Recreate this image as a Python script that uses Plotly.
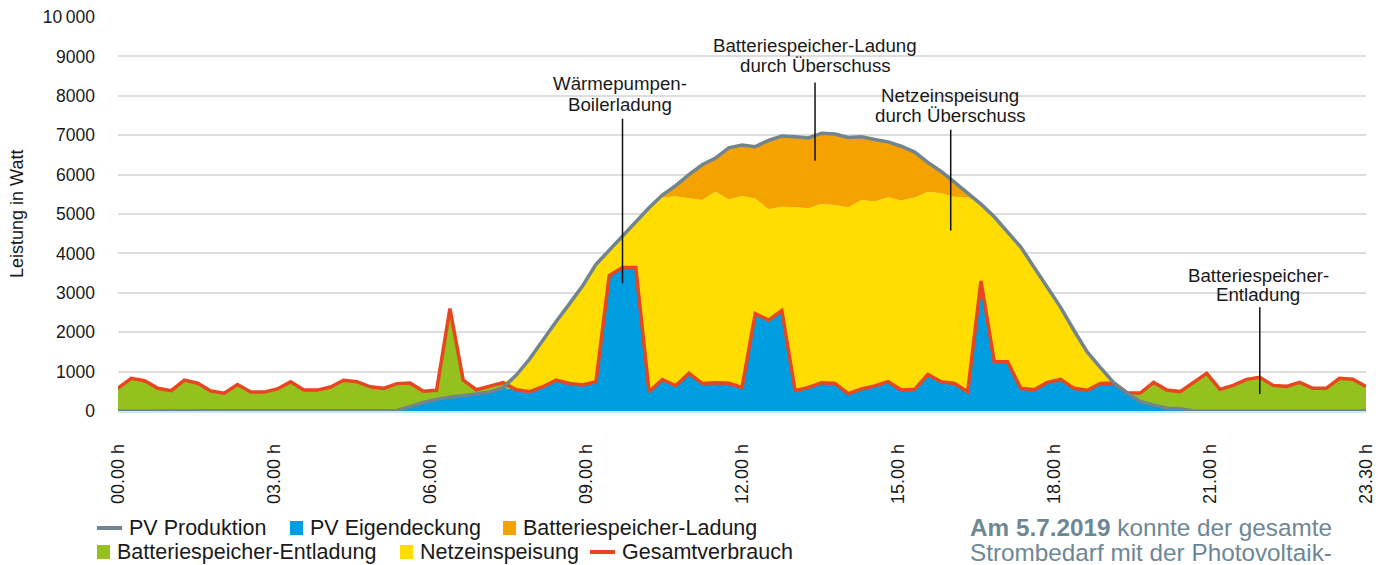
import numpy as np
import plotly.graph_objects as go

# ---------------- data (15-minute steps, 00.00 h .. 23.30 h) ----------------
zeitpunkte = [f"{i // 4:02d}.{(i % 4) * 15:02d}" for i in range(95)]
stunden = [i / 4 for i in range(95)]

tick_labels = ["00.00 h", "03.00 h", "06.00 h", "09.00 h", "12.00 h",
               "15.00 h", "18.00 h", "21.00 h", "23.30 h"]
y_tick_values = [0, 1000, 2000, 3000, 4000, 5000, 6000, 7000, 8000, 9000, 10000]
y_tick_labels = ["0", "1000", "2000", "3000", "4000", "5000", "6000", "7000",
                 "8000", "9000", "10\u2009000"]

# Gesamtverbrauch (W)
gesamtverbrauch = [
    580, 830, 770, 575, 515, 785, 705, 505, 450, 670,
    480, 480, 560, 740, 535, 530, 610, 780, 745, 615,
    575, 695, 710, 500, 530, 2600, 785, 540, 630, 718,
    540, 490, 616, 785, 700, 658, 743, 3440, 3640, 3640,
    490, 800, 640, 955, 700, 718, 702, 596, 2470, 2307,
    2550, 515, 596, 718, 700, 440, 560, 638, 744, 533,
    550, 925, 744, 700, 490, 3300, 1250, 1250, 575, 540,
    727, 803, 575, 525, 700, 710, 464, 455, 725, 533,
    492, 735, 955, 550, 650, 804, 855, 650, 625, 728,
    575, 575, 830, 805, 625,
]

# PV Produktion (W)
pv_produktion = [
    0, 0, 0, 0, 0, 0, 0, 0, 0, 0,
    0, 0, 0, 0, 0, 0, 0, 0, 0, 0,
    0, 15, 110, 215, 295, 355, 390, 430, 480, 590,
    910, 1320, 1800, 2270, 2720, 3180, 3720, 4080, 4420, 4800,
    5160, 5480, 5720, 6000, 6250, 6420, 6680, 6750, 6710, 6870,
    6980, 6960, 6930, 7050, 7030, 6940, 6960, 6890, 6830, 6720,
    6570, 6310, 6080, 5810, 5540, 5250, 4930, 4530, 4160, 3650,
    3140, 2630, 2050, 1500, 1100, 720, 456, 240, 150, 70,
    60, 0, 0, 0, 0, 0, 0, 0, 0, 0,
    0, 0, 0, 0, 0,
]

# Batteriespeicher-Ladung (W)
batterie_ladung = [
    0, 0, 0, 0, 0, 0, 0, 0, 0, 0,
    0, 0, 0, 0, 0, 0, 0, 0, 0, 0,
    0, 0, 0, 0, 0, 0, 0, 0, 0, 0,
    0, 0, 0, 0, 0, 0, 0, 0, 0, 0,
    0, 60, 270, 600, 895, 855, 1310, 1295, 1315, 1750,
    1795, 1790, 1785, 1795, 1800, 1770, 1605, 1575, 1405, 1380,
    1150, 745, 555, 370, 115, 0, 0, 0, 0, 0,
    0, 0, 0, 0, 0, 0, 0, 0, 0, 0,
    0, 0, 0, 0, 0, 0, 0, 0, 0, 0,
    0, 0, 0, 0, 0,
]

# ---------------- derived energy balance ----------------
v = np.array(gesamtverbrauch, dtype=float)
p = np.array(pv_produktion, dtype=float)
lad = np.array(batterie_ladung, dtype=float)
pv_eigendeckung = np.minimum(p, v)
batterie_entladung = np.maximum(v - p, 0)
netzeinspeisung = np.maximum(p - v - lad, 0)

# ---------------- styling ----------------
BLUE = "#009EE0"
GREEN = "#95C11F"
YELLOW = "#FFDD00"
ORANGE = "#F4A200"
RED = "#E8461E"
GREY = "#71848F"
TEXT = "#1A1A1A"
NOTE = "#6E8795"
FONT = "Liberation Sans, Arial, Helvetica, sans-serif"

# the page body adds an 8 px margin -> figure is 8 px smaller, coordinates shifted
OFF = 8
W, H = 1386 - OFF, 565 - OFF
PLOT_L, PLOT_R, PLOT_T, PLOT_B = 118, 1366, 16, 411   # target page pixels
Y_MAX = 10025                                          # 10 000 lands at page y ~17
L, T = PLOT_L - OFF, PLOT_T - OFF
R = W - (PLOT_R - OFF)
B = H - (PLOT_B - OFF)
PW, PH = W - L - R, H - T - B


def px_x(px):
    return (px - PLOT_L) / PW


def px_y(py):
    return (PLOT_B - py) / PH


fig = go.Figure()

for name, vals, col in [("PV Eigendeckung", pv_eigendeckung, BLUE),
                        ("Batteriespeicher-Entladung", batterie_entladung, GREEN),
                        ("Netzeinspeisung", netzeinspeisung, YELLOW),
                        ("Batteriespeicher-Ladung", lad, ORANGE)]:
    fig.add_trace(go.Scatter(
        x=stunden, y=vals, name=name, stackgroup="energie", mode="none",
        fillcolor=col, showlegend=False, customdata=zeitpunkte,
        hovertemplate="%{customdata} h: %{y:.0f} W<extra>" + name + "</extra>"))

fig.add_trace(go.Scatter(
    x=stunden, y=gesamtverbrauch, name="Gesamtverbrauch", mode="lines",
    line=dict(color=RED, width=3.5), showlegend=False, customdata=zeitpunkte))
fig.add_trace(go.Scatter(
    x=stunden, y=pv_produktion, name="PV Produktion", mode="lines",
    line=dict(color=GREY, width=3.5), showlegend=False, customdata=zeitpunkte))

shapes = []
annotations = []

# leader lines + callout texts (data coordinates)
callouts = [
    (9.5, 3240, 7420, 9.45, ["Wärmepumpen-", "Boilerladung"], [8300, 7790]),
    (13.125, 6350, 8340, 13.125, ["Batteriespeicher-Ladung", "durch Überschuss"], [9265, 8760]),
    (15.68, 4580, 7140, 15.67, ["Netzeinspeisung", "durch Überschuss"], [7995, 7510]),
    (21.5, 430, 2630, 21.47, ["Batteriespeicher-", "Entladung"], [3450, 2945]),
]
for lx, y0, y1, tx, lines, ys in callouts:
    shapes.append(dict(type="line", xref="x", yref="y", x0=lx, x1=lx, y0=y0, y1=y1,
                       line=dict(color="#111111", width=1.5)))
    for txt, ty in zip(lines, ys):
        annotations.append(dict(x=tx, y=ty, xref="x", yref="y", text=txt, showarrow=False,
                                xanchor="center", yanchor="middle",
                                font=dict(family=FONT, size=18.7, color=TEXT)))

# y-axis title
annotations.append(dict(x=px_x(17), y=px_y(214), xref="paper", yref="paper",
                        text="Leistung in Watt", textangle=-90, showarrow=False,
                        xanchor="center", yanchor="middle",
                        font=dict(family=FONT, size=18, color=TEXT)))

# custom legend
legend_items = [
    ("line", GREY, "PV Produktion", 97, 528),
    ("box", BLUE, "PV Eigendeckung", 290, 528),
    ("box", ORANGE, "Batteriespeicher-Ladung", 503, 528),
    ("box", GREEN, "Batteriespeicher-Entladung", 97, 552),
    ("box", YELLOW, "Netzeinspeisung", 400, 552),
    ("line", RED, "Gesamtverbrauch", 590, 552),
]
for kind, col, txt, x0, yc in legend_items:
    if kind == "line":
        shapes.append(dict(type="line", xref="paper", yref="paper",
                           x0=px_x(x0), x1=px_x(x0 + 25), y0=px_y(yc), y1=px_y(yc),
                           line=dict(color=col, width=4)))
        tx = x0 + 30
    else:
        shapes.append(dict(type="rect", xref="paper", yref="paper",
                           x0=px_x(x0), x1=px_x(x0 + 13), y0=px_y(yc - 7), y1=px_y(yc + 7),
                           fillcolor=col, line=dict(width=0)))
        tx = x0 + 18
    annotations.append(dict(x=px_x(tx), y=px_y(yc), xref="paper", yref="paper", text=txt,
                            showarrow=False, xanchor="left", yanchor="middle",
                            font=dict(family=FONT, size=21.5, color=TEXT)))

# footnote
annotations.append(dict(x=px_x(968), y=px_y(527), xref="paper", yref="paper",
                        text="<b>Am 5.7.2019</b> konnte der gesamte", showarrow=False,
                        xanchor="left", yanchor="middle",
                        font=dict(family=FONT, size=24.3, color=NOTE)))
annotations.append(dict(x=px_x(968), y=px_y(552), xref="paper", yref="paper",
                        text="Strombedarf mit der Photovoltaik-", showarrow=False,
                        xanchor="left", yanchor="middle",
                        font=dict(family=FONT, size=24.3, color=NOTE)))

fig.update_layout(
    width=W, height=H,
    margin=dict(l=L, r=R, t=T, b=B, autoexpand=False),
    paper_bgcolor="white", plot_bgcolor="white",
    font=dict(family=FONT, color=TEXT),
    showlegend=False,
    shapes=shapes, annotations=annotations,
    xaxis=dict(range=[0, 23.5], tickvals=list(np.linspace(0, 23.5, 9)), ticktext=tick_labels,
               tickangle=-90, tickfont=dict(size=18, color=TEXT), showgrid=False,
               zeroline=False, showline=True, linecolor="#C9E6E8", linewidth=1.5,
               ticks="", ticklabelstandoff=24, ticklabeloverflow="allow", fixedrange=True),
    yaxis=dict(range=[0, Y_MAX], tickvals=y_tick_values, ticktext=y_tick_labels,
               tickfont=dict(size=17.5, color=TEXT), showgrid=True, gridcolor="#DEDEDE",
               gridwidth=1.5, zeroline=False, showline=False, ticks="",
               ticklabelstandoff=22, ticklabeloverflow="allow", fixedrange=True),
)

fig.write_html("out.html")
